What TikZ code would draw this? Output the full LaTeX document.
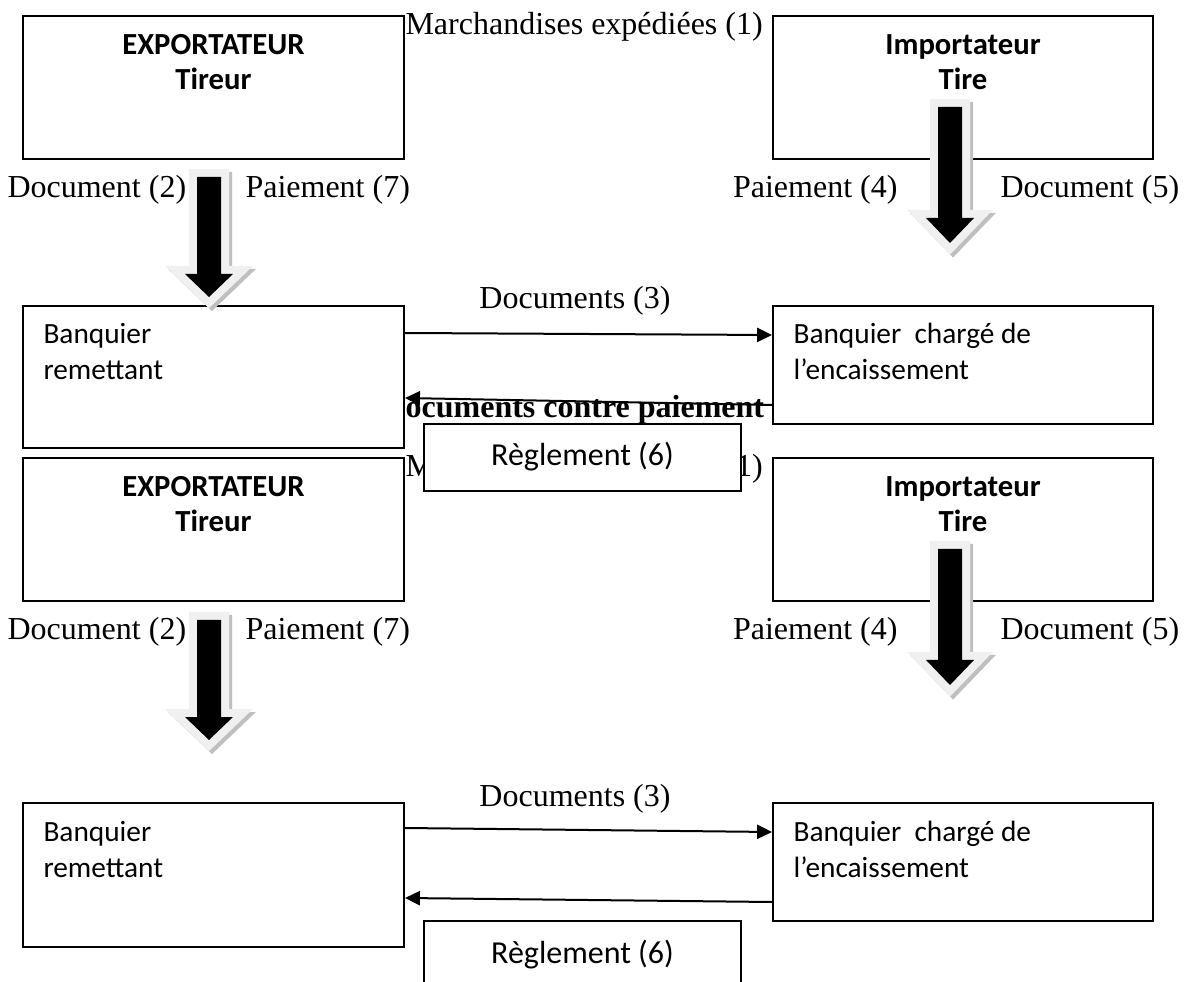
\documentclass[tikz,border=0pt]{standalone}
\usepackage{fontspec}
\setmainfont{Liberation Serif}
\newfontfamily\calib{Carlito}
\usetikzlibrary{arrows.meta,calc}

\definecolor{arrowrim}{HTML}{F0F0F0}
\definecolor{arrowshade}{HTML}{BFBFBF}

% Block arrow: #1,#2 = top centre of the shaft, #3 = shaft length, #4 = head length
\newcommand\fatarrow[4]{%
  \begin{scope}[shift={(#1,#2)}]
    \filldraw[fill=arrowshade, draw=arrowshade, line width=6pt, shift={(3,3)}]
      (-12,0) -- (-12,#3) -- (-24,#3) -- (0,#3+#4) -- (24,#3) -- (12,#3) -- (12,0) -- cycle;
    \draw[arrowrim, line width=6pt]
      (-12,0) -- (-12,#3) -- (-24,#3) -- (0,#3+#4) -- (24,#3) -- (12,#3) -- (12,0) -- cycle;
    \fill[black]
      (-12,0) -- (-12,#3) -- (-24,#3) -- (0,#3+#4) -- (24,#3) -- (12,#3) -- (12,0) -- cycle;
  \end{scope}}

\begin{document}
\begin{tikzpicture}[x=0.375pt, y=-0.375pt,
  frame/.style={draw=black, line width=0.75pt, fill=white, rectangle,
                inner sep=0pt, anchor=north west},
  wide/.style={minimum width=142.875pt},
  tnr/.style={font=\fontsize{12}{14}\selectfont, inner sep=0pt},
  tnrb/.style={font=\fontsize{12}{14}\selectfont\bfseries, inner sep=0pt},
  cal/.style={font=\calib\fontsize{11}{13}\selectfont, inner sep=0pt},
  calr/.style={font=\calib\fontsize{12}{14}\selectfont, inner sep=0pt},
  calb/.style={font=\calib\bfseries\fontsize{11.5}{13}\selectfont, inner sep=0pt},
  link/.style={line width=0.75pt, -{Triangle[length=5.6pt, width=5.3pt]}}
]
\useasboundingbox (0,0) rectangle (1184,982);
\clip (0,0) rectangle (1184,982);
\fill[white] (0,0) rectangle (1184,982);

% free texts lying behind the boxes
\node[tnr, anchor=base west] (mar1) at (405,35) {Marchandises expédiées (1)};
\node[tnr, anchor=base west] (mar2) at (405,477) {Marchandises expédiées (1)};
\node[tnrb, anchor=base west] (dcp) at (382,418) {Documents contre paiement};

% ---- first diagram ----
\node[frame, wide, minimum height=53.625pt] (exp1) at (22,15) {};
\node[frame, minimum width=142.5pt, minimum height=53.625pt] (imp1) at (772,15) {};
\node[frame, wide, minimum height=53.25pt] (rem1) at (22,305) {};
\node[frame, minimum width=142.5pt, minimum height=44.25pt] (chg1) at (772,305) {};

\node[calb, anchor=base] (exp1a) at ($(exp1.north)+(0,40)$) {EXPORTATEUR};
\node[calb, anchor=base] (exp1b) at ($(exp1.north)+(0,75)$) {Tireur};
\node[calb, anchor=base] (imp1a) at ($(imp1.north)+(0,40)$) {Importateur};
\node[calb, anchor=base] (imp1b) at ($(imp1.north)+(0,75)$) {Tire};
\node[cal, anchor=base west] (rem1a) at ($(rem1.north west)+(21,39)$) {Banquier};
\node[cal, anchor=base west] (rem1b) at ($(rem1.north west)+(21,75)$) {remettant};
\node[cal, anchor=base west] (chg1a) at ($(chg1.north west)+(21,39)$) {Banquier\ \ chargé de};
\node[cal, anchor=base west] (chg1b) at ($(chg1.north west)+(21,75)$) {l’encaissement};

\node[tnr, anchor=base west] (doc2a) at (7,198) {Document (2)};
\node[tnr, anchor=base west] (pay7a) at (245,198) {Paiement (7)};
\node[tnr, anchor=base east] (pay4a) at (898,198) {Paiement (4)};
\node[tnr, anchor=base west] (doc5a) at (1000,198) {Document (5)};
\node[tnr, anchor=base] (doc3a) at (575,309) {Documents (3)};

\draw[link] ($(rem1.north east)+(0,28)$) -- ($(chg1.north west)+(0,30)$);
\draw[link] ($(chg1.north west)+(0,100)$) -- ($(rem1.north east)+(0,93)$);

% ---- second diagram ----
\node[frame, wide, minimum height=53.625pt] (exp2) at (22,457) {};
\node[frame, minimum width=142.5pt, minimum height=53.625pt] (imp2) at (772,457) {};
\node[frame, wide, minimum height=54pt] (rem2) at (22,802) {};
\node[frame, minimum width=142.5pt, minimum height=44.25pt] (chg2) at (772,802) {};

\node[calb, anchor=base] (exp2a) at ($(exp2.north)+(0,40)$) {EXPORTATEUR};
\node[calb, anchor=base] (exp2b) at ($(exp2.north)+(0,75)$) {Tireur};
\node[calb, anchor=base] (imp2a) at ($(imp2.north)+(0,40)$) {Importateur};
\node[calb, anchor=base] (imp2b) at ($(imp2.north)+(0,75)$) {Tire};
\node[cal, anchor=base west] (rem2a) at ($(rem2.north west)+(21,39)$) {Banquier};
\node[cal, anchor=base west] (rem2b) at ($(rem2.north west)+(21,75)$) {remettant};
\node[cal, anchor=base west] (chg2a) at ($(chg2.north west)+(21,39)$) {Banquier\ \ chargé de};
\node[cal, anchor=base west] (chg2b) at ($(chg2.north west)+(21,75)$) {l’encaissement};

\node[tnr, anchor=base west] (doc2b) at (7,640) {Document (2)};
\node[tnr, anchor=base west] (pay7b) at (245,640) {Paiement (7)};
\node[tnr, anchor=base east] (pay4b) at (898,640) {Paiement (4)};
\node[tnr, anchor=base west] (doc5b) at (1000,640) {Document (5)};
\node[tnr, anchor=base] (doc3b) at (575,806) {Documents (3)};

\draw[link] ($(rem2.north east)+(0,26)$) -- ($(chg2.north west)+(0,30)$);
\draw[link] ($(chg2.north west)+(0,100)$) -- ($(rem2.north east)+(0,96)$);

% ---- block arrows ----
\fatarrow{209}{177}{97}{23}
\fatarrow{950}{107}{111}{25}
\fatarrow{209}{620}{97}{23}
\fatarrow{950}{549}{111}{25}

% ---- settlement boxes on top ----
\node[frame, minimum width=118.875pt, minimum height=25.125pt] (reg1) at (423,423) {};
\node[calr, anchor=base] (reg1t) at ($(reg1.north)+(0,43)$) {Règlement (6)};
\node[frame, minimum width=118.875pt, minimum height=25.125pt] (reg2) at (423,920) {};
\node[calr, anchor=base] (reg2t) at ($(reg2.north)+(0,43)$) {Règlement (6)};
\end{tikzpicture}
\end{document}
